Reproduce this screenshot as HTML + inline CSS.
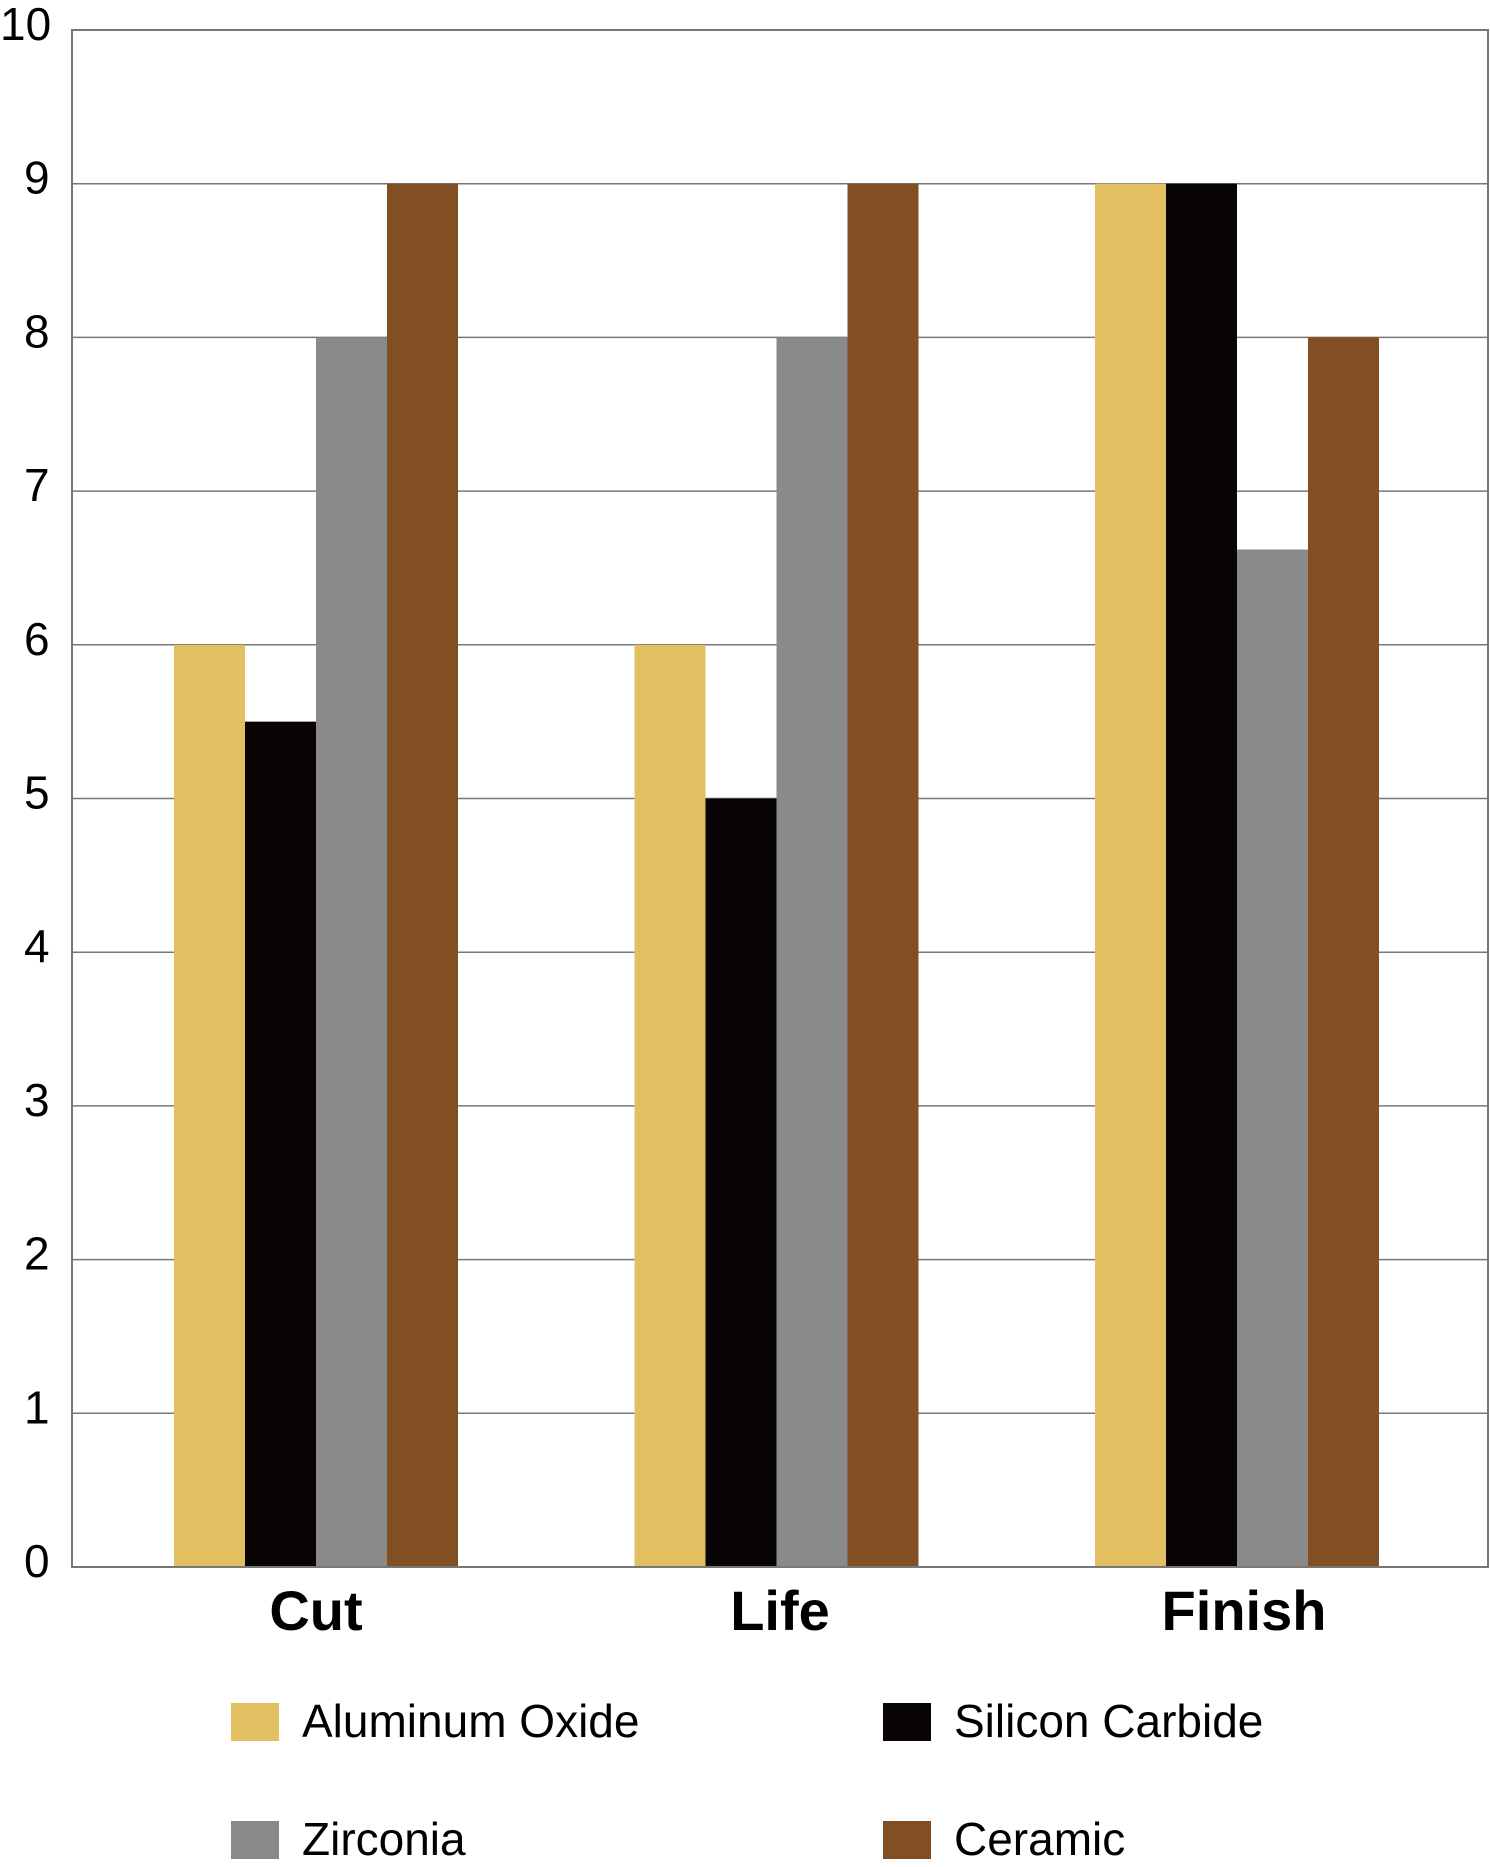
<!DOCTYPE html>
<html><head><meta charset="utf-8"><style>
html,body{margin:0;padding:0;background:#fff;}
svg{display:block;font-family:"Liberation Sans",sans-serif;}
</style></head><body>
<svg id="chart" width="1490" height="1867" viewBox="0 0 1490 1867" xmlns="http://www.w3.org/2000/svg">
<g id="grid"></g>
<g id="bars"></g>
<rect x="72" y="30" width="1416" height="1537" fill="none" stroke="#777" stroke-width="2"/>
<g id="yticks"></g>
<g id="xlabels"></g>
<g id="legend"></g>
</svg>
<script>
const categories = ["Cut", "Life", "Finish"];
const seriesNames = ["Aluminum Oxide", "Silicon Carbide", "Zirconia", "Ceramic"];
const aluminumOxide = [6, 6, 9];
const siliconCarbide = [5.5, 5, 9];
const zirconia = [8, 8, 6.62];
const ceramic = [9, 9, 8];
const yTicks = [0,1,2,3,4,5,6,7,8,9,10];

const series = [aluminumOxide, siliconCarbide, zirconia, ceramic];
const colors = ["#e2c062", "#080403", "#8a8a8a", "#814f23"];
const NS = "http://www.w3.org/2000/svg";
const x0 = 72, x1 = 1488, yBase = 1567, yTop = 30;
const y = v => yBase - (v / 10) * (yBase - yTop);
const groupStart = i => 174 + i * 460.5;
const barW = 71;
function mk(tag, attrs, parent){const e=document.createElementNS(NS,tag);for(const k in attrs)e.setAttribute(k,attrs[k]);parent.appendChild(e);return e;}
const grid=document.getElementById('grid'), bars=document.getElementById('bars'), yt=document.getElementById('yticks'), xl=document.getElementById('xlabels'), lg=document.getElementById('legend');
yTicks.forEach(t=>{
  const l=mk('line',{x1:x0,x2:x1,y1:y(t),y2:y(t),stroke:'#777','stroke-width':1.5},grid);
  
  
  const tx=mk('text',{x:t===10?0:24,y:y(t)+10,'font-size':46,fill:'#000'},yt);
  tx.textContent=t;
  
  
});
categories.forEach((c,i)=>{
  series.forEach((s,j)=>{
    const r=mk('rect',{x:groupStart(i)+j*barW,y:y(s[i]),width:barW,height:yBase-y(s[i]),fill:colors[j]},bars);
    
    
  });
  const t=mk('text',{x:groupStart(i)+2*barW+i*3.5,y:1630,'font-size':56,'font-weight':'bold','text-anchor':'middle',fill:'#000'},xl);
  t.textContent=c;
  
  
});
const legPos=[[231,1703],[883,1703],[231,1821],[883,1821]];
seriesNames.forEach((n,j)=>{
  const g=mk('g',{},lg);
  
  
  const [lx,ly]=legPos[j];
  const sw=mk('rect',{x:lx,y:ly,width:48,height:38,fill:colors[j]},g);
  
  
  const t=mk('text',{x:lx+71,y:ly+34,'font-size':46,fill:'#000'},g);
  t.textContent=n;
  
  
});
</script>
</body></html>
